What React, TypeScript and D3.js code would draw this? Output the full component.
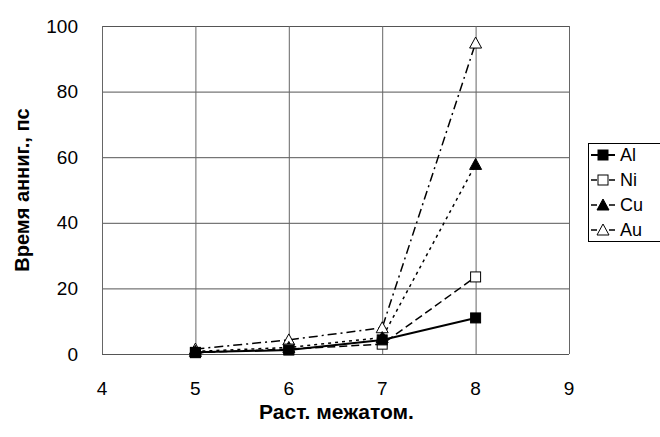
import { useRef, useEffect } from 'react';
import * as d3 from 'd3';

const xValues = [5, 6, 7, 8];
const alValues = [0.5, 1.2, 4.3, 11];
const niValues = [0.4, 1.5, 3, 23.5];
const cuValues = [0.8, 2, 5, 57.8];
const auValues = [1.5, 4.3, 8, 94.8];
const xTicks = [4, 5, 6, 7, 8, 9];
const yTicks = [0, 20, 40, 60, 80, 100];

const SERIES = [
  { name: 'Al', values: alValues, dash: null, width: 2, marker: 'square', fill: '#000' },
  { name: 'Ni', values: niValues, dash: '8,4', width: 1.5, marker: 'square', fill: '#fff' },
  { name: 'Cu', values: cuValues, dash: '3,4', width: 1.5, marker: 'triangle', fill: '#000' },
  { name: 'Au', values: auValues, dash: '9,4,2,4', width: 1.5, marker: 'triangle', fill: '#fff' },
];

const W = 660, H = 437;
const MARGIN = { top: 26, right: 91, bottom: 83, left: 102 };

export default function App() {
  const svgRef = useRef<SVGSVGElement>(null);

  useEffect(() => {
    const svg = d3.select(svgRef.current);
    svg.selectAll('*').remove();
    const innerW = W - MARGIN.left - MARGIN.right;
    const innerH = H - MARGIN.top - MARGIN.bottom;
    const font = '"Liberation Sans", Arial, sans-serif';

    const x = d3.scaleLinear().domain([4, 9]).range([0, innerW]);
    const y = d3.scaleLinear().domain([0, 100]).range([innerH, 0]);

    const g = svg.append('g').attr('transform', `translate(${MARGIN.left},${MARGIN.top})`);

    // grid
    g.selectAll('.hg').data(yTicks).join('line')
      .attr('x1', 0).attr('x2', innerW)
      .attr('y1', d => y(d) + 0.5).attr('y2', d => y(d) + 0.5)
      .attr('stroke', '#555').attr('stroke-width', 1);
    g.selectAll('.vg').data(xTicks).join('line')
      .attr('x1', d => x(d) + 0.5).attr('x2', d => x(d) + 0.5)
      .attr('y1', 0).attr('y2', innerH)
      .attr('stroke', '#666').attr('stroke-width', 1);

    // tick labels
    g.selectAll('.yl').data(yTicks).join('text')
      .attr('x', -24).attr('y', d => y(d)).attr('dy', '0.35em')
      .attr('text-anchor', 'end').attr('font-family', font).attr('font-size', 19)
      .text(d => d);
    g.selectAll('.xl').data(xTicks).join('text')
      .attr('x', d => x(d)).attr('y', innerH + 41)
      .attr('text-anchor', 'middle').attr('font-family', font).attr('font-size', 19)
      .text(d => d);

    // axis titles
    svg.append('text')
      .attr('transform', `translate(29,${MARGIN.top + innerH / 2}) rotate(-90)`)
      .attr('text-anchor', 'middle').attr('font-family', font)
      .attr('font-size', 20).attr('font-weight', 'bold')
      .text('Время анниг., пс');
    svg.append('text')
      .attr('x', MARGIN.left + innerW / 2 + 1).attr('y', 419)
      .attr('text-anchor', 'middle').attr('font-family', font)
      .attr('font-size', 21).attr('font-weight', 'bold')
      .text('Раст. межатом.');

    const drawMarker = (sel: any, type: string, fill: string, cx: number, cy: number) => {
      if (type === 'square') {
        sel.append('rect').attr('x', cx - 5).attr('y', cy - 5).attr('width', 10).attr('height', 10)
          .attr('fill', fill).attr('stroke', '#000').attr('stroke-width', 1);
      } else {
        sel.append('path').attr('d', `M${cx},${cy - 6}L${cx + 6},${cy + 5}L${cx - 6},${cy + 5}Z`)
          .attr('fill', fill).attr('stroke', '#000').attr('stroke-width', 1);
      }
    };

    const line = d3.line<number>().x((_, i) => x(xValues[i])).y(d => y(d));
    SERIES.slice().reverse().forEach(s => {
      g.append('path').datum(s.values).attr('d', line)
        .attr('fill', 'none').attr('stroke', '#000').attr('stroke-width', s.width)
        .attr('stroke-dasharray', s.dash);
    });
    SERIES.slice().reverse().forEach(s => {
      s.values.forEach((v, i) => drawMarker(g, s.marker, s.fill, x(xValues[i]), y(v)));
    });

    // legend
    const lg = svg.append('g').attr('transform', 'translate(588,143)');
    lg.append('rect').attr('x', 0.5).attr('y', 0.5).attr('width', 80).attr('height', 98)
      .attr('fill', '#fff').attr('stroke', '#000').attr('stroke-width', 1);
    SERIES.forEach((s, i) => {
      const cy = 12 + i * 25;
      lg.append('line').attr('x1', 3).attr('x2', 27).attr('y1', cy).attr('y2', cy)
        .attr('stroke', '#000').attr('stroke-width', s.width).attr('stroke-dasharray', s.dash ? '6,3' : null);
      drawMarker(lg, s.marker, s.fill, 15, cy);
      lg.append('text').attr('x', 32).attr('y', cy).attr('dy', '0.35em')
        .attr('font-family', font).attr('font-size', 18).text(s.name);
    });
  }, []);

  return <svg ref={svgRef} width={W} height={H} style={{ display: 'block', position: 'absolute', left: 0, top: 0 }} />;
}
